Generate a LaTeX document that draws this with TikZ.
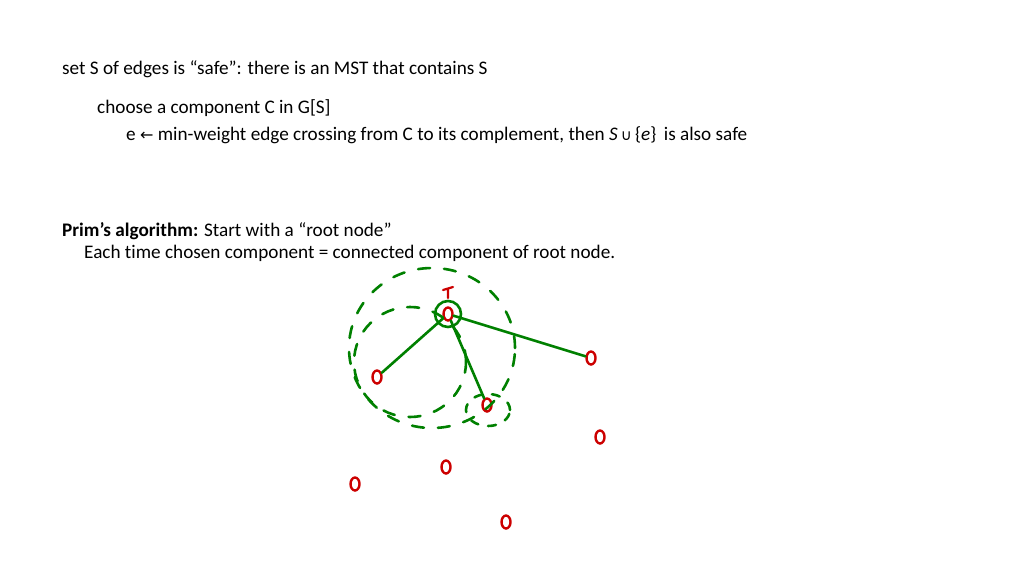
\documentclass[tikz,border=0pt]{standalone}
\usepackage{fontspec}
\setmainfont{Carlito}[Ligatures={NoCommon,TeX}]
\newfontfamily\symf{DejaVu Sans}
\usetikzlibrary{shapes.geometric}
\begin{document}
\begin{tikzpicture}[x=1pt,y=-1pt,
 txt/.style={anchor=west,inner sep=0pt,font=\fontsize{19.2}{22}\selectfont},
 vtx/.style={draw=red!80!black,line width=2.4pt,ellipse,minimum width=9pt,minimum height=13pt,inner sep=0pt},
 gr/.style={draw=green!50!black,line width=2.6pt,line cap=round},
 gd/.style={gr,dash pattern=on 12pt off 14pt}]
\useasboundingbox (0,0) rectangle (1024,576);
\node[txt] (l1) at (62,69) {set S of edges is “safe”: there is an MST that contains S};
\node[txt] (l2) at (97,108) {choose a component C in G[S]};
\node[txt] (l3) at (126,135) {e {\symf\fontsize{16}{18}\selectfont ←} min-weight edge crossing from C to its complement, then \textit{S}\,{\symf\fontsize{15}{18}\selectfont ∪}\,\{\textit{e}\}\, is also safe};
\node[txt] (l4) at (62,231) {\textbf{Prim’s algorithm:} Start with a “root node”};
\node[txt] (l5) at (84,253) {Each time chosen component = connected component of root node.};
\node[vtx] (r) at (448,314) {};
\node[vtx] (a) at (377,377) {};
\node[vtx] (b) at (487,405) {};
\node[vtx] (c) at (591,358) {};
\node[vtx] (d) at (600,437) {};
\node[vtx] (e) at (446,467) {};
\node[vtx] (f) at (355,484) {};
\node[vtx] (g) at (506,522) {};
\draw[red!80!black,line width=2.2pt,line cap=round] (443,290)--(453,287) (448,289)--(448,298);
\draw[gr] (r) circle[radius=13pt];
\draw[gr] (r)--(a) (r)--(b) (r)--(c);
\draw[gd] (432,348) ellipse[x radius=83pt,y radius=80pt];
\draw[gd] (410,362) ellipse[x radius=56pt,y radius=55pt];
\draw[gd,dash pattern=on 8pt off 10pt] (488,410) ellipse[x radius=22pt,y radius=16pt];
\end{tikzpicture}
\end{document}
